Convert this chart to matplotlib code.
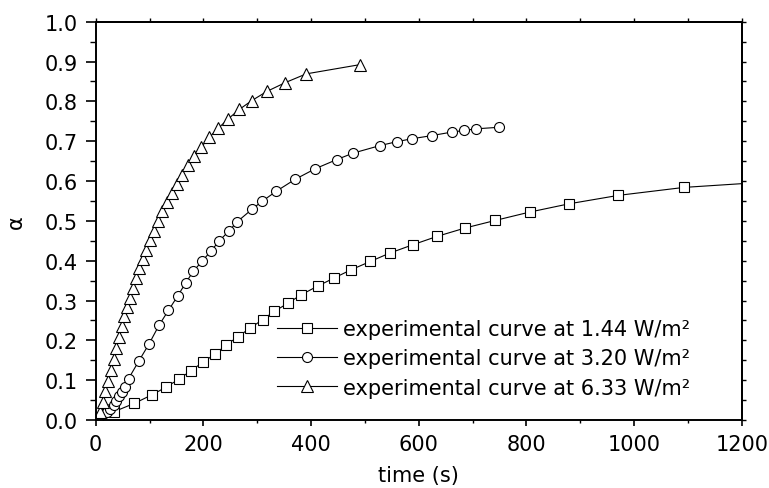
import matplotlib
matplotlib.use("Agg")
import matplotlib.pyplot as plt
from matplotlib.ticker import MultipleLocator, FormatStrFormatter

plt.rcParams['font.family'] = ['DejaVu Sans']

# ---- data ----
t_144 = [34, 72, 104, 130, 155, 177, 199, 222, 242, 264, 286, 310, 332, 358, 381,
         412, 442, 474, 510, 546, 589, 634, 686, 742, 806, 880, 971, 1093, 1230]
a_144 = [0.021, 0.042, 0.063, 0.082, 0.103, 0.124, 0.145, 0.166, 0.188, 0.209, 0.230,
         0.252, 0.273, 0.294, 0.314, 0.336, 0.356, 0.377, 0.398, 0.419, 0.440, 0.461,
         0.482, 0.501, 0.522, 0.543, 0.564, 0.584, 0.596]

t_320 = [6, 14, 20, 27, 33, 38, 43, 48, 54, 61, 80, 99, 118, 135, 152, 167, 181, 197,
         214, 229, 247, 263, 291, 309, 335, 370, 408, 448, 478, 528, 560, 587, 624,
         662, 685, 706, 750]
a_320 = [0.007, 0.014, 0.021, 0.028, 0.038, 0.048, 0.060, 0.071, 0.082, 0.104, 0.148,
         0.191, 0.239, 0.275, 0.311, 0.344, 0.373, 0.398, 0.424, 0.449, 0.474, 0.498,
         0.530, 0.549, 0.574, 0.604, 0.631, 0.654, 0.670, 0.689, 0.699, 0.706, 0.714,
         0.723, 0.727, 0.731, 0.735]

t_633 = [8, 13, 18, 23, 28, 33, 38, 43, 48, 53, 58, 63, 69, 75, 81, 87, 94, 101, 108,
         116, 124, 132, 141, 151, 160, 171, 183, 196, 211, 228, 246, 267, 290, 318,
         352, 391, 490]
a_633 = [0.020, 0.046, 0.072, 0.099, 0.126, 0.153, 0.180, 0.208, 0.235, 0.260, 0.285,
         0.307, 0.332, 0.356, 0.381, 0.405, 0.427, 0.453, 0.474, 0.500, 0.524, 0.547,
         0.570, 0.593, 0.616, 0.641, 0.663, 0.685, 0.710, 0.733, 0.756, 0.780, 0.802,
         0.825, 0.847, 0.869, 0.892]

labels = ["experimental curve at 1.44 W/m²",
          "experimental curve at 3.20 W/m²",
          "experimental curve at 6.33 W/m²"]

FS = 15

# ---- figure ----
fig = plt.figure(figsize=(7.69, 4.89), dpi=100)
ax = fig.add_axes([0.1245, 0.139, 0.8400, 0.8146])

common = dict(color='black', lw=0.8, mfc='white', mec='black', mew=0.8)
ax.plot(t_144, a_144, marker='s', ms=6.5, label=labels[0], **common)
ax.plot(t_320, a_320, marker='o', ms=7.2, label=labels[1], **common)
ax.plot(t_633, a_633, marker='^', ms=8.2, label=labels[2], **common)

ax.set_xlim(0, 1200)
ax.set_ylim(0.0, 1.0)
ax.xaxis.set_major_locator(MultipleLocator(200))
ax.xaxis.set_minor_locator(MultipleLocator(100))
ax.yaxis.set_major_locator(MultipleLocator(0.1))
ax.yaxis.set_minor_locator(MultipleLocator(0.05))
ax.yaxis.set_major_formatter(FormatStrFormatter('%.1f'))

for s in ax.spines.values():
    s.set_linewidth(1.4)

ax.tick_params(axis='x', which='major', direction='out', length=4.3, width=1.2,
               labelsize=FS, pad=6)
ax.tick_params(axis='x', which='minor', direction='out', length=2.5, width=1.0)
ax.tick_params(axis='y', which='major', direction='out', length=7, width=1.2,
               labelsize=FS, pad=6)
ax.tick_params(axis='y', which='minor', direction='out', length=4, width=1.0)

top = ax.secondary_xaxis('top')
top.xaxis.set_major_locator(MultipleLocator(100))
top.tick_params(direction='out', length=3, width=1.0, labeltop=False)
right = ax.secondary_yaxis('right')
right.yaxis.set_major_locator(MultipleLocator(0.05))
right.tick_params(direction='out', length=3, width=1.0, labelright=False)
top.spines['top'].set_linewidth(1.4)
right.spines['right'].set_linewidth(1.4)

ax.set_xlabel("time (s)", fontsize=FS)
ax.set_ylabel("α", fontsize=FS)
ax.xaxis.set_label_coords(0.5, -0.112)
ax.yaxis.set_label_coords(-0.108, 0.5)

leg = ax.legend(loc='upper left', bbox_to_anchor=(0.280, 0.254), frameon=False,
                fontsize=FS, handlelength=2.9, handletextpad=0.3,
                labelspacing=0.45, borderpad=0, borderaxespad=0, numpoints=1)

fig.savefig("out.png", dpi=100)
